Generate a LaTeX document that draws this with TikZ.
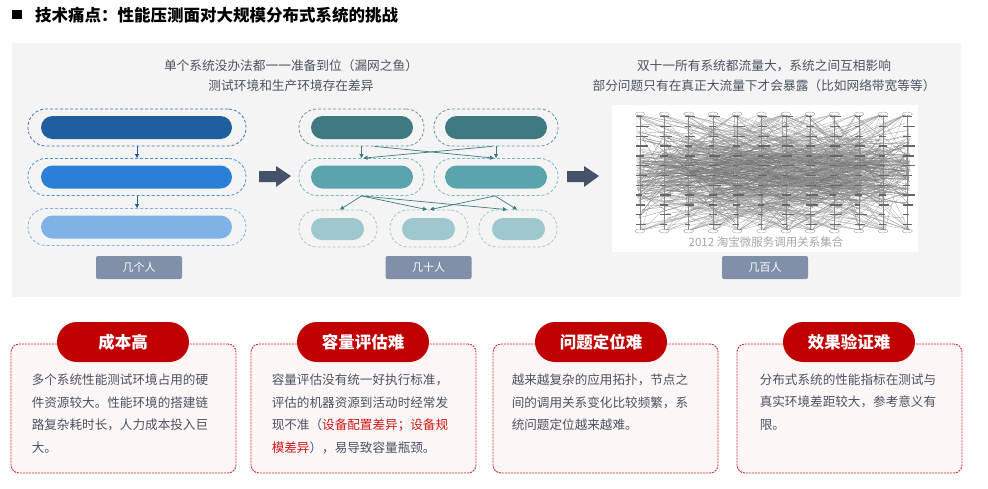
\documentclass[tikz,border=0pt]{standalone}
\usepackage{fontspec}
\setmainfont{Noto Sans CJK SC}
\usetikzlibrary{arrows.meta,calc}

\definecolor{panelgray}{HTML}{F4F4F4}
\definecolor{subtext}{HTML}{4A5262}
\definecolor{bodytext}{HTML}{4B5263}
\definecolor{blueA}{HTML}{1F5F9E}
\definecolor{blueB}{HTML}{2A80D6}
\definecolor{blueC}{HTML}{7FB2E6}
\definecolor{tealA}{HTML}{3F7A82}
\definecolor{tealB}{HTML}{5BA4AE}
\definecolor{tealC}{HTML}{9EC8CE}
\definecolor{tagblue}{HTML}{8190A9}
\definecolor{arrowgray}{HTML}{45536A}
\definecolor{pillred}{HTML}{C00000}
\definecolor{cardred}{HTML}{D02828}
\definecolor{cardpink}{HTML}{FCF6F6}
\definecolor{hotred}{HTML}{D01818}

\begin{document}
\begin{tikzpicture}[x=1pt,y=-1pt,
  outline/.style={draw,dash pattern=on 3pt off 2pt,line width=0.8pt,rounded corners=18pt,minimum height=37pt,inner sep=0pt},
  bar/.style={rounded corners=11.5pt,minimum height=23pt,inner sep=0pt},
  smallbar/.style={rounded corners=11pt,minimum height=22pt,minimum width=53pt,inner sep=0pt},
  flow/.style={-{Triangle[length=4pt,width=4pt]},line width=0.7pt},
  tag/.style={fill=tagblue,text=white,minimum width=86pt,minimum height=23pt,rounded corners=2pt,inner sep=0pt,font=\fontsize{11}{13}\selectfont},
  subhead/.style={text=subtext,font=\fontsize{12.7}{20}\selectfont,align=center},
  card/.style={draw=cardred,fill=cardpink,dash pattern=on 2pt off 1pt,line width=0.9pt,rounded corners=8pt,minimum width=225pt,minimum height=129pt,inner sep=0pt},
  pill/.style={fill=pillred,text=white,rounded corners=20pt,minimum width=132pt,minimum height=40pt,inner sep=0pt,font=\fontsize{16.5}{18}\selectfont\bfseries},
  body/.style={text=bodytext,align=left,anchor=north west,inner sep=0pt,font=\fontsize{12.6}{22.6}\selectfont},
  graphline/.style={black!55,line width=0.2pt}]
  \useasboundingbox (0,0) rectangle (988,488);

  % title
  \fill (12,10) rectangle (22,19);
  \node[anchor=west,inner sep=0pt,font=\fontsize{16.5}{18}\selectfont\bfseries] (title) at (35,15) {技术痛点：性能压测面对大规模分布式系统的挑战};

  % gray panel
  \fill[panelgray] (12,43) rectangle (961,297);

  \node[subhead] (headL) at (291,76) {单个系统没办法都一一准备到位（漏网之鱼）\\测试环境和生产环境存在差异};
  \node[subhead] (headR) at (764,76) {双十一所有系统都流量大，系统之间互相影响\\部分问题只有在真正大流量下才会暴露（比如网络带宽等等）};

  % a few people
  \node[outline,draw=blueA!85,minimum width=218pt] (l1) at (137,127.5) {};
  \node[outline,draw=blueB!85,minimum width=218pt] (l2) at (137,177) {};
  \node[outline,draw=blueC,minimum width=218pt] (l3) at (137,227) {};
  \node[bar,fill=blueA,minimum width=191pt] (lb1) at (136.5,127.5) {};
  \node[bar,fill=blueB,minimum width=191pt] (lb2) at (136.5,177) {};
  \node[bar,fill=blueC,minimum width=191pt] (lb3) at (136.5,227) {};
  \draw[flow,blueA] (l1) -- (l2);
  \draw[flow,blueA] (l2) -- (l3);
  \node[tag] (t1) at (139,267.5) {几个人};

  % a few dozen people
  \node[outline,draw=tealA!80,minimum width=125pt] (m11) at (361.5,127.5) {};
  \node[outline,draw=tealA!80,minimum width=124pt] (m12) at (496,127.5) {};
  \node[outline,draw=tealB!80,minimum width=125pt] (m21) at (361.5,177) {};
  \node[outline,draw=tealB!80,minimum width=124pt] (m22) at (496,177) {};
  \node[outline,draw=tealC,minimum width=78pt] (m31) at (338,228.5) {};
  \node[outline,draw=tealC,minimum width=78pt] (m32) at (429,228.5) {};
  \node[outline,draw=tealC,minimum width=78pt] (m33) at (518,228.5) {};
  \node[bar,fill=tealA,minimum width=102pt] (mb11) at (362,127.5) {};
  \node[bar,fill=tealA,minimum width=102pt] (mb12) at (496,127.5) {};
  \node[bar,fill=tealB,minimum width=102pt] (mb21) at (362,177) {};
  \node[bar,fill=tealB,minimum width=102pt] (mb22) at (496,177) {};
  \node[smallbar,fill=tealC] (mb31) at (337.5,229) {};
  \node[smallbar,fill=tealC] (mb32) at (428.5,229) {};
  \node[smallbar,fill=tealC] (mb33) at (518.5,229) {};
  \draw[flow,tealA] (m11) -- (m21);
  \draw[flow,tealA] (m12) -- (m22);
  \draw[flow,tealA] ($(m11.south)+(13,0)$) -- ($(m22.north)+(-2,0)$);
  \draw[flow,tealA] ($(m12.south)+(-4,0)$) -- ($(m21.north)+(2,0)$);
  \draw[flow,tealA] (m21.south) -- ($(m31.north)+(2,0)$);
  \draw[flow,tealA] (m21.south) -- ($(m32.north)+(-2,0)$);
  \draw[flow,tealA] (m21.south) -- ($(m33.north)+(-11,0)$);
  \draw[flow,tealA] ($(m22.south)+(-1,0)$) -- ($(m32.north)+(1,0)$);
  \draw[flow,tealA] ($(m22.south)+(-1,0)$) -- ($(m33.north)+(-1,0)$);
  \node[tag] (t2) at (428.5,267.5) {几十人};

  % big arrows
  \foreach \ax in {259,567}
    \fill[arrowgray] (\ax,171) -- ++(17,0) -- ++(0,-5) -- ++(15,10) -- ++(-15,11) -- ++(0,-5) -- ++(-17,0) -- cycle;

  % hundreds of people: call graph picture
  \fill[white] (612,105) rectangle (918,252);
  \pgfmathsetseed{2012}
  \foreach \k in {1,...,560}{
    \pgfmathsetmacro\xa{637+24.3*random(0,11)+6*rnd}
    \pgfmathsetmacro\ya{114+116*(rnd+rnd+rnd)/3}
    \pgfmathsetmacro\xb{637+24.3*random(0,11)+6*rnd}
    \pgfmathsetmacro\yb{114+116*(rnd+rnd)/2}
    \draw[graphline] (\xa,\ya) -- (\xb,\yb);
  }
  \foreach \k in {1,...,120}{
    \pgfmathsetmacro\xa{637+24.3*random(0,11)}
    \pgfmathsetmacro\xb{637+24.3*random(0,11)}
    \pgfmathsetmacro\yb{150+50*rnd}
    \draw[black!40,line width=0.2pt] (\xa,115) -- (\xb,\yb) -- (\xa+5,230);
  }
  \foreach \c in {0,...,11}{
    \draw[black!45,line width=0.3pt] (640+24.3*\c,115) -- (640+24.3*\c,230);
    \foreach \r in {0,...,11}{
      \pgfmathsetmacro\bw{5+8*rnd}
      \fill[black!60] (636+24.3*\c,116+9.8*\r) rectangle ++(\bw,1.4);
    }
    \draw[black!45,line width=0.3pt] (640+24.3*\c,114) ellipse (5pt and 2pt);
    \draw[black!45,line width=0.3pt] (640+24.3*\c,231) ellipse (5pt and 2pt);
  }
  \node[text=gray!70,font=\fontsize{11.5}{13}\selectfont,inner sep=0pt] (cap) at (766,242) {2012 淘宝微服务调用关系集合};
  \node[tag] (t3) at (765,267.5) {几百人};

  % pain point cards
  \node[card] (c1) at (123.5,408.5) {};
  \node[card] (c2) at (363.5,408.5) {};
  \node[card] (c3) at (605.5,408.5) {};
  \node[card] (c4) at (849.5,408.5) {};
  \node[pill] (p1) at (123,342) {成本高};
  \node[pill] (p2) at (363,342) {容量评估难};
  \node[pill] (p3) at (601,342) {问题定位难};
  \node[pill] (p4) at (849,342) {效果验证难};
  \node[body] (b1) at ($(c1.north west)+(21,30)$) {多个系统性能测试环境占用的硬\\件资源较大。性能环境的搭建链\\路复杂耗时长，人力成本投入巨\\大。};
  \node[body] (b2) at ($(c2.north west)+(21,30)$) {容量评估没有统一好执行标准，\\评估的机器资源到活动时经常发\\现不准（{\color{hotred}设备配置差异；设备规}\\{\color{hotred}模差异}），易导致容量瓶颈。};
  \node[body] (b3) at ($(c3.north west)+(19,30)$) {越来越复杂的应用拓扑，节点之\\间的调用关系变化比较频繁，系\\统问题定位越来越难。};
  \node[body] (b4) at ($(c4.north west)+(23,30)$) {分布式系统的性能指标在测试与\\真实环境差距较大，参考意义有\\限。};
\end{tikzpicture}
\end{document}
